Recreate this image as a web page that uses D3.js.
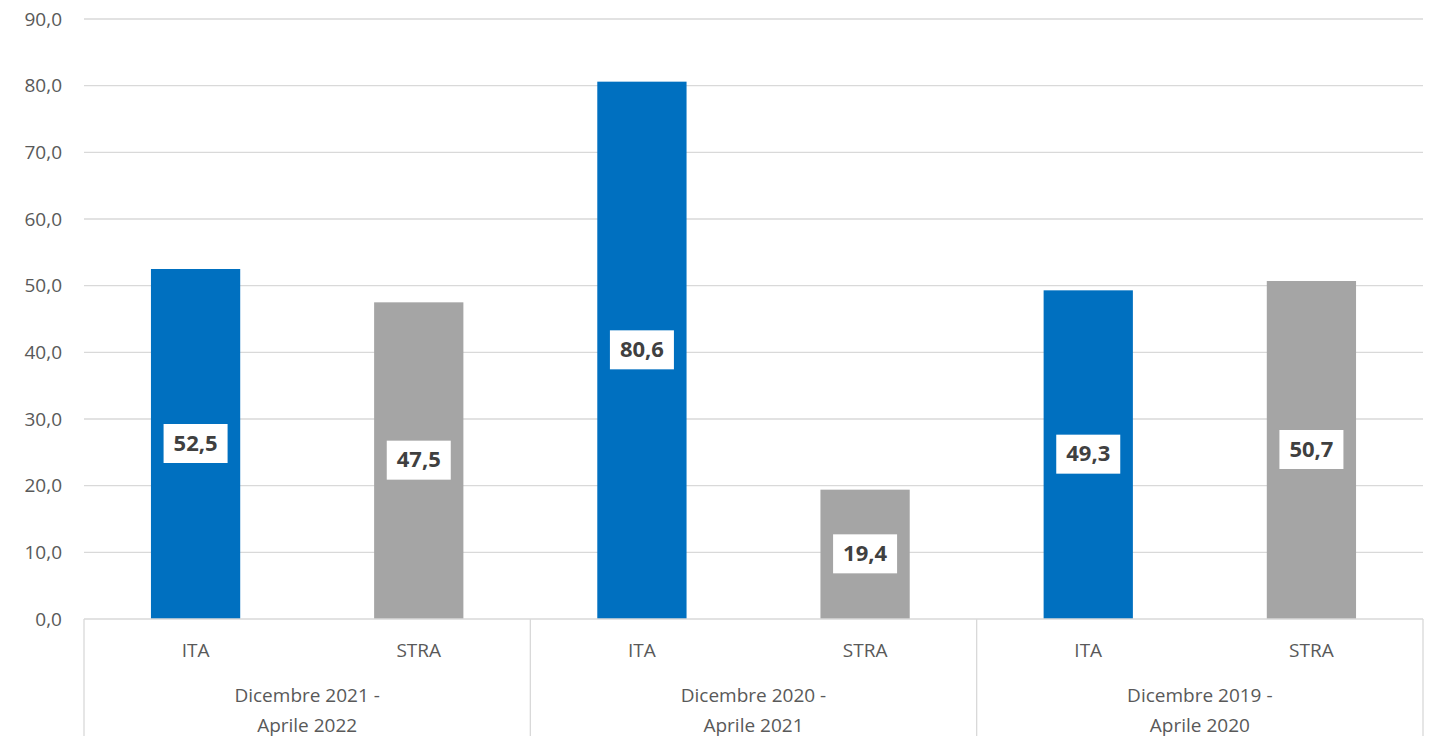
<!DOCTYPE html>
<html>
<head>
<meta charset="utf-8">
<script src="https://cdn.jsdelivr.net/npm/d3@7"></script>
<style>
  body { margin: 0; background: #fff; }
  text { font-family: "Open Sans", "Noto Sans", sans-serif; fill: #595959; }
</style>
</head>
<body>
<svg id="chart" width="1432" height="736"></svg>
<script>
const periods = ["Dicembre 2021 -|Aprile 2022", "Dicembre 2020 -|Aprile 2021", "Dicembre 2019 -|Aprile 2020"];
const series = ["ITA", "STRA"];
const values = [[52.5, 47.5], [80.6, 19.4], [49.3, 50.7]];
const yTicks = [0, 10, 20, 30, 40, 50, 60, 70, 80, 90];

const svg = d3.select("#chart"),
    margin = {left: 84, right: 9, top: 19, bottom: 117},
    width = 1432 - margin.left - margin.right,
    height = 736 - margin.top - margin.bottom;

const colors = {ITA: "#0070C0", STRA: "#A5A5A5"};
const fmt = v => d3.format(".1f")(v).replace(".", ",");

const g = svg.append("g")
    .attr("transform", "translate(" + margin.left + "," + margin.top + ")");

// one band per bar
const data = [];
periods.forEach((p, i) => series.forEach((s, j) => data.push({period: p, serie: s, value: values[i][j], key: i + "-" + s})));

const x = d3.scaleBand()
    .domain(data.map(d => d.key))
    .range([0, width])
    .paddingInner(0.6)
    .paddingOuter(0.3);

const xGroup = d3.scaleBand()
    .domain(periods)
    .range([0, width]);

const y = d3.scaleLinear()
    .domain([0, 90])
    .range([height, 0]);

// gridlines
g.selectAll(".grid").data(yTicks.slice(1)).enter()
    .append("line")
    .attr("x1", 0).attr("x2", width)
    .attr("y1", d => y(d)).attr("y2", d => y(d))
    .attr("stroke", "#D9D9D9").attr("stroke-width", 1.3);

// y labels
g.selectAll(".ylab").data(yTicks).enter()
    .append("text")
    .attr("x", -22)
    .attr("y", d => y(d))
    .attr("dy", "0.35em")
    .attr("text-anchor", "end")
    .attr("font-size", "19px")
    .text(d => fmt(d));

// bars
g.selectAll(".bar").data(data).enter()
    .append("rect")
    .attr("class", "bar")
    .attr("x", d => x(d.key))
    .attr("y", d => y(d.value))
    .attr("width", x.bandwidth())
    .attr("height", d => height - y(d.value))
    .attr("fill", d => colors[d.serie]);

// axis line and group separators
g.append("line")
    .attr("x1", 0).attr("x2", width)
    .attr("y1", height).attr("y2", height)
    .attr("stroke", "#D9D9D9").attr("stroke-width", 1.3);

g.selectAll(".sep").data(periods.map(p => xGroup(p)).concat([width])).enter()
    .append("line")
    .attr("x1", d => d).attr("x2", d => d)
    .attr("y1", height).attr("y2", height + margin.bottom)
    .attr("stroke", "#D9D9D9").attr("stroke-width", 1.3);

// series labels
g.selectAll(".xlab").data(data).enter()
    .append("text")
    .attr("x", d => x(d.key) + x.bandwidth() / 2)
    .attr("y", height + 31)
    .attr("dy", "0.35em")
    .attr("text-anchor", "middle")
    .attr("font-size", "19px")
    .text(d => d.serie);

// period labels
periods.forEach(p => {
  p.split("|").forEach((line, k) => {
    g.append("text")
      .attr("x", xGroup(p) + xGroup.bandwidth() / 2)
      .attr("y", height + 76 + k * 30)
      .attr("dy", "0.35em")
      .attr("text-anchor", "middle")
      .attr("font-size", "19px")
      .text(line);
  });
});

// value labels
const lab = g.selectAll(".vlab").data(data).enter().append("g")
    .attr("transform", d => "translate(" + (x(d.key) + x.bandwidth() / 2) + "," + (y(d.value / 2) - 1) + ")");

lab.append("rect")
    .attr("x", -32).attr("y", -19)
    .attr("width", 64).attr("height", 39)
    .attr("fill", "#fff");

lab.append("text")
    .attr("text-anchor", "middle")
    .attr("dy", "0.35em")
    .attr("font-size", "22px")
    .attr("font-weight", "bold")
    .style("fill", "#404040")
    .text(d => fmt(d.value));
</script>
</body>
</html>
